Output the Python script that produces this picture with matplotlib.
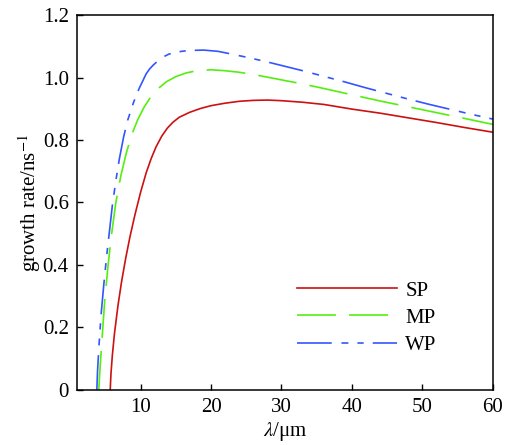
import matplotlib.pyplot as plt

plt.rcParams['font.family'] = ['Liberation Serif', 'DejaVu Serif']
plt.rcParams['mathtext.fontset'] = 'stix'
plt.rcParams['lines.scale_dashes'] = False

# SP
sp_x = [5.7, 5.8, 6.0, 6.3, 6.8, 7.3, 7.9, 8.5, 9.2, 10.0, 10.8, 11.5, 12.2, 13.0, 13.8,
        14.6, 15.5, 17.0, 18.5, 20.0, 22.0, 24.0, 26.0, 28.0, 30.0, 33.0, 36.0, 40.0,
        44.0, 48.0, 52.0, 56.0, 60.0]
sp_y = [0, 0.05, 0.11, 0.18, 0.27, 0.345, 0.422, 0.49, 0.56, 0.632, 0.695, 0.74, 0.778,
        0.812, 0.838, 0.857, 0.873, 0.889, 0.901, 0.910, 0.918, 0.924, 0.927, 0.928,
        0.926, 0.921, 0.914, 0.899, 0.886, 0.871, 0.856, 0.840, 0.825]

# MP
mp_x = [4.08, 4.2, 4.5, 4.9, 5.4, 5.9, 6.5, 7.2, 8.0, 8.8, 9.6, 10.5, 11.5, 12.5, 13.7,
        15.0, 16.5, 18.0, 20.0, 22.0, 24.0, 26.0, 29.0, 32.0, 35.0, 38.0, 41.0, 44.0,
        47.0, 50.0, 53.0, 56.0, 60.0]
mp_y = [0, 0.05, 0.15, 0.28, 0.40, 0.50, 0.60, 0.685, 0.76, 0.82, 0.865, 0.905, 0.94,
        0.965, 0.987, 1.003, 1.015, 1.022, 1.025, 1.022, 1.017, 1.010, 0.997, 0.984,
        0.97, 0.955, 0.94, 0.925, 0.911, 0.897, 0.883, 0.869, 0.85]

# WP
wp_x = [3.8, 3.9, 4.1, 4.4, 4.8, 5.2, 5.6, 6.0, 6.5, 7.0, 7.6, 8.2, 9.0, 9.8, 10.8, 11.3,
        11.8, 12.8, 13.4, 14.0, 15.5, 16.2, 17.0, 19.0, 21.0, 23.0, 25.5, 28.0, 30.5,
        33.0, 36.0, 39.0, 42.0, 45.0, 48.0, 51.0, 54.0, 57.0, 60.0]
wp_y = [0, 0.06, 0.14, 0.24, 0.34, 0.43, 0.51, 0.59, 0.67, 0.74, 0.81, 0.865, 0.92,
        0.965, 1.012, 1.028, 1.04, 1.06, 1.068, 1.075, 1.083, 1.085, 1.087, 1.088, 1.084,
        1.075, 1.063, 1.05, 1.036, 1.022, 1.004, 0.986, 0.967, 0.949, 0.931, 0.914,
        0.898, 0.882, 0.867]

xticks = [10, 20, 30, 40, 50, 60]
yticks = [0, 0.2, 0.4, 0.6, 0.8, 1.0, 1.2]
ytick_labels = ['0', '0.2', '0.4', '0.6', '0.8', '1.0', '1.2']

fig = plt.figure(figsize=(5.14, 4.45), dpi=100)
ax = fig.add_axes([0.150, 0.124, 0.809, 0.842])

ax.plot(sp_x, sp_y, color='#cc1111', lw=1.2, label='SP')
ax.plot(mp_x, mp_y, color='#55ee11', lw=1.2, dashes=(28, 9.5), label='MP')
ax.plot(wp_x, wp_y, color='#3355ff', lw=1.2, dashes=(25, 7, 5, 6.5, 4.5, 6.5), label='WP')

ax.set_xlim(1, 60)
ax.set_ylim(0, 1.2)
ax.set_xticks(xticks)
ax.set_yticks(yticks)
ax.set_yticklabels(ytick_labels)
ax.tick_params(direction='in', length=4, width=1, labelsize=15, pad=6)

ax.set_xlabel(r'$\lambda$/μm', fontsize=15, labelpad=2)
ax.set_ylabel(r'growth rate/ns$^{-1}$', fontsize=15, labelpad=0)

for s in ax.spines.values():
    s.set_linewidth(1.1)

ax.legend(loc='center left', bbox_to_anchor=(297 / 514, 1 - 318 / 445),
          bbox_transform=fig.transFigure, frameon=False, fontsize=15,
          handlelength=4.8, handletextpad=0.4, labelspacing=0.36,
          borderpad=0, borderaxespad=0)

fig.savefig('out.png', dpi=100)
